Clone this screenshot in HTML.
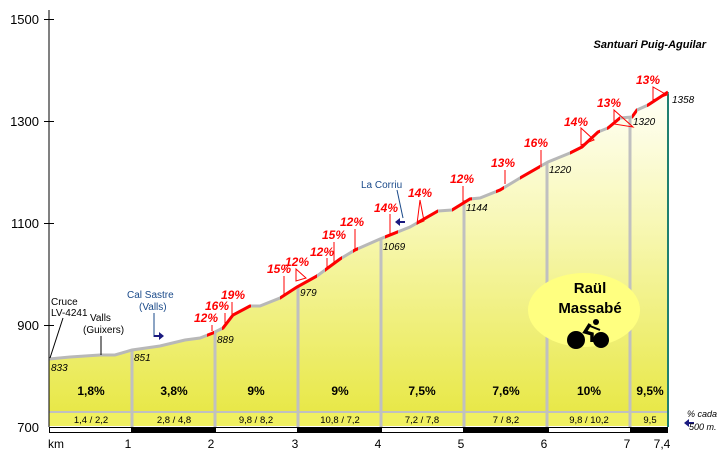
<!DOCTYPE html>
<html><head><meta charset="utf-8"><style>
html,body{margin:0;padding:0;background:#fff}
svg{display:block;font-family:"Liberation Sans",sans-serif}
</style></head><body>
<svg width="720" height="460" viewBox="0 0 720 460" xmlns="http://www.w3.org/2000/svg">
<defs>
<linearGradient id="g" gradientUnits="userSpaceOnUse" x1="0" y1="90" x2="0" y2="412">
<stop offset="0" stop-color="#fffff8"/><stop offset="0.4" stop-color="#f8f8b8"/><stop offset="1" stop-color="#e8e848"/>
</linearGradient>
<clipPath id="red">
<rect x="207" y="0" width="7" height="460"/><rect x="222" y="0" width="29" height="460"/>
<rect x="280" y="0" width="37" height="460"/><rect x="325" y="0" width="17" height="460"/>
<rect x="353" y="0" width="5" height="460"/><rect x="385" y="0" width="13" height="460"/>
<rect x="417" y="0" width="21" height="460"/><rect x="452" y="0" width="20" height="460"/>
<rect x="496" y="0" width="8" height="460"/><rect x="520" y="0" width="20" height="460"/>
<rect x="570" y="0" width="30" height="460"/><rect x="607" y="0" width="13" height="460"/>
<rect x="632" y="0" width="5" height="460"/><rect x="647" y="0" width="21" height="460"/>
</clipPath>
</defs>
<polygon fill="url(#g)" points="49,359 70,357 100,355 115,355 132,350 160,346 185,340 200,338 213,333 223,328 233,315 250,306 260,306 280,298 297,287 317,276 340,259 355,250 380,239 410,227 438,211 452,210 470,199 480,198 500,190 520,178 548,162 570,153 582,147 598,132 608,128 620,118 632,117 637,110 648,105 668,92 668,412 49,412"/>
<rect x="49" y="412" width="619" height="14" fill="#f0f060"/>
<line x1="49" y1="412" x2="668" y2="412" stroke="#c0c0c0" stroke-width="2"/>
<g stroke="#c0c0c0" stroke-width="3">
<line x1="132" y1="350" x2="132" y2="427"/><line x1="215" y1="332" x2="215" y2="427"/>
<line x1="298" y1="287" x2="298" y2="427"/><line x1="381" y1="239" x2="381" y2="427"/>
<line x1="464" y1="200" x2="464" y2="427"/><line x1="547" y1="162" x2="547" y2="427"/>
<line x1="630" y1="118" x2="630" y2="427"/>
</g>
<line x1="668" y1="92" x2="668" y2="427" stroke="#208070" stroke-width="2"/>
<polyline fill="none" stroke="#b8b8b8" stroke-width="3" points="49,359 70,357 100,355 115,355 132,350 160,346 185,340 200,338 213,333 223,328 233,315 250,306 260,306 280,298 297,287 317,276 340,259 355,250 380,239 410,227 438,211 452,210 470,199 480,198 500,190 520,178 548,162 570,153 582,147 598,132 608,128 620,118 632,117 637,110 648,105 668,92"/>
<polyline clip-path="url(#red)" fill="none" stroke="#ff0000" stroke-width="3" points="49,359 70,357 100,355 115,355 132,350 160,346 185,340 200,338 213,333 223,328 233,315 250,306 260,306 280,298 297,287 317,276 340,259 355,250 380,239 410,227 438,211 452,210 470,199 480,198 500,190 520,178 548,162 570,153 582,147 598,132 608,128 620,118 632,117 637,110 648,105 668,92"/>
<rect x="49" y="427" width="619" height="6" fill="#000"/>
<rect x="50" y="428" width="81" height="4" fill="#fff"/><rect x="216" y="428" width="81" height="4" fill="#fff"/>
<rect x="382" y="428" width="81" height="4" fill="#fff"/><rect x="549" y="428" width="81" height="4" fill="#fff"/>
<line x1="49" y1="10" x2="49" y2="427" stroke="#000" stroke-width="1"/>
<g stroke="#000"><line x1="44" y1="19.5" x2="54" y2="19.5"/><line x1="44" y1="121.5" x2="54" y2="121.5"/><line x1="44" y1="223.5" x2="54" y2="223.5"/><line x1="44" y1="325.5" x2="54" y2="325.5"/></g>
<g font-size="13" text-anchor="end" fill="#000"><text x="39" y="24">1500</text><text x="39" y="126">1300</text><text x="39" y="228">1100</text><text x="39" y="330">900</text><text x="39" y="432">700</text></g>
<g font-size="12" fill="#000" text-anchor="middle"><text x="56" y="448">km</text><text x="128" y="448">1</text><text x="211" y="448">2</text><text x="295" y="448">3</text><text x="378" y="448">4</text><text x="461" y="448">5</text><text x="544" y="448">6</text><text x="627" y="448">7</text><text x="662" y="448">7,4</text></g>
<g font-size="12" font-weight="bold" text-anchor="middle" fill="#000"><text x="91" y="395">1,8%</text><text x="174" y="395">3,8%</text><text x="256" y="395">9%</text><text x="340" y="395">9%</text><text x="422" y="395">7,5%</text><text x="506" y="395">7,6%</text><text x="589" y="395">10%</text><text x="650" y="395">9,5%</text></g>
<g font-size="9.5" text-anchor="middle" fill="#000"><text x="91" y="423">1,4  /  2,2</text><text x="174" y="423">2,8  /  4,8</text><text x="256" y="423">9,8  /  8,2</text><text x="340" y="423">10,8  /  7,2</text><text x="422" y="423">7,2  /  7,8</text><text x="506" y="423">7  /  8,2</text><text x="589" y="423">9,8  /  10,2</text><text x="650" y="423">9,5</text></g>
<g font-size="10" font-style="italic" fill="#000"><text x="51" y="371">833</text><text x="134" y="361">851</text><text x="217" y="343">889</text><text x="300" y="296">979</text><text x="383" y="250">1069</text><text x="466" y="211">1144</text><text x="549" y="173">1220</text><text x="633" y="125">1320</text><text x="672" y="103">1358</text></g>
<text x="706" y="48" font-size="11" font-weight="bold" font-style="italic" text-anchor="end">Santuari Puig-Aguilar</text>
<g font-size="10" fill="#000"><text x="51" y="305">Cruce</text><text x="51" y="316">LV-4241</text><text x="90" y="321">Valls</text><text x="83" y="333">(Guixers)</text></g>
<line x1="63" y1="318" x2="50" y2="358" stroke="#000"/><line x1="101" y1="336" x2="101" y2="355" stroke="#000"/>
<g font-size="10" fill="#1a4a8a"><text x="127" y="298">Cal Sastre</text><text x="139" y="310">(Valls)</text><text x="361" y="188">La Corriu</text></g>
<line x1="154" y1="313" x2="154" y2="337" stroke="#1a4a8a"/>
<path d="M154,335 h5 v-3 l5,4 l-5,4 v-3 h-5z" fill="#1a1a80"/>
<line x1="397" y1="190" x2="403" y2="218" stroke="#1a4a8a"/>
<path d="M405,221 h-5 v-3 l-5,4 l5,4 v-3 h5z" fill="#1a1a80"/>
<path d="M694,422 h-5 v-3 l-5,4 l5,4 v-3 h5z" fill="#1a1a80"/>
<g font-size="9" font-style="italic" fill="#000"><text x="687" y="417">% cada</text><text x="689" y="430">500 m.</text></g>
<g font-size="12" font-weight="bold" font-style="italic" fill="#ff0000" text-anchor="middle">
<text x="206" y="322">12%</text><text x="217" y="310">16%</text><text x="233" y="299">19%</text>
<text x="279" y="273">15%</text><text x="297" y="266">12%</text><text x="322" y="256">12%</text><text x="334" y="239">15%</text><text x="352" y="226">12%</text>
<text x="386" y="212">14%</text><text x="420" y="197">14%</text><text x="462" y="183">12%</text><text x="503" y="167">13%</text><text x="536" y="147">16%</text><text x="576" y="126">14%</text><text x="609" y="107">13%</text><text x="648" y="84">13%</text>
</g>
<g stroke="#ff0000" fill="none" stroke-width="1">
<line x1="212" y1="325" x2="212" y2="331"/><line x1="225" y1="313" x2="225" y2="327"/><line x1="232" y1="302" x2="232" y2="316"/>
<line x1="284" y1="276" x2="284" y2="296"/><path d="M296,269 v12 l10,-3z"/><line x1="327" y1="258" x2="327" y2="270"/><line x1="334" y1="242" x2="334" y2="262"/><line x1="355" y1="229" x2="355" y2="250"/>
<line x1="390" y1="214" x2="390" y2="234"/><path d="M420,200 l-3,24 l7,-3z"/><line x1="463" y1="186" x2="463" y2="203"/><line x1="505" y1="170" x2="505" y2="184"/><line x1="541" y1="150" x2="541" y2="167"/>
<path d="M581,128 v17 l13,-5z"/><path d="M614,110 v14 l19,3z"/><path d="M653,87 v13 l14,-5z"/>
</g>
<ellipse cx="584" cy="310" rx="56" ry="37" fill="#ffff80"/>
<g font-size="15" font-weight="bold" text-anchor="middle" fill="#000"><text x="590" y="293">Raül</text><text x="590" y="313">Massabé</text></g>
<circle cx="576" cy="340" r="9" fill="#000"/><circle cx="601" cy="340" r="8" fill="#000"/>
<circle cx="596" cy="322" r="3" fill="#000"/>
<path d="M590,324 l-5,8 l7,2 l0,8" stroke="#000" stroke-width="3.5" fill="none"/>
<path d="M590,326 l10,4" stroke="#000" stroke-width="2" fill="none"/>
</svg>
</body></html>
